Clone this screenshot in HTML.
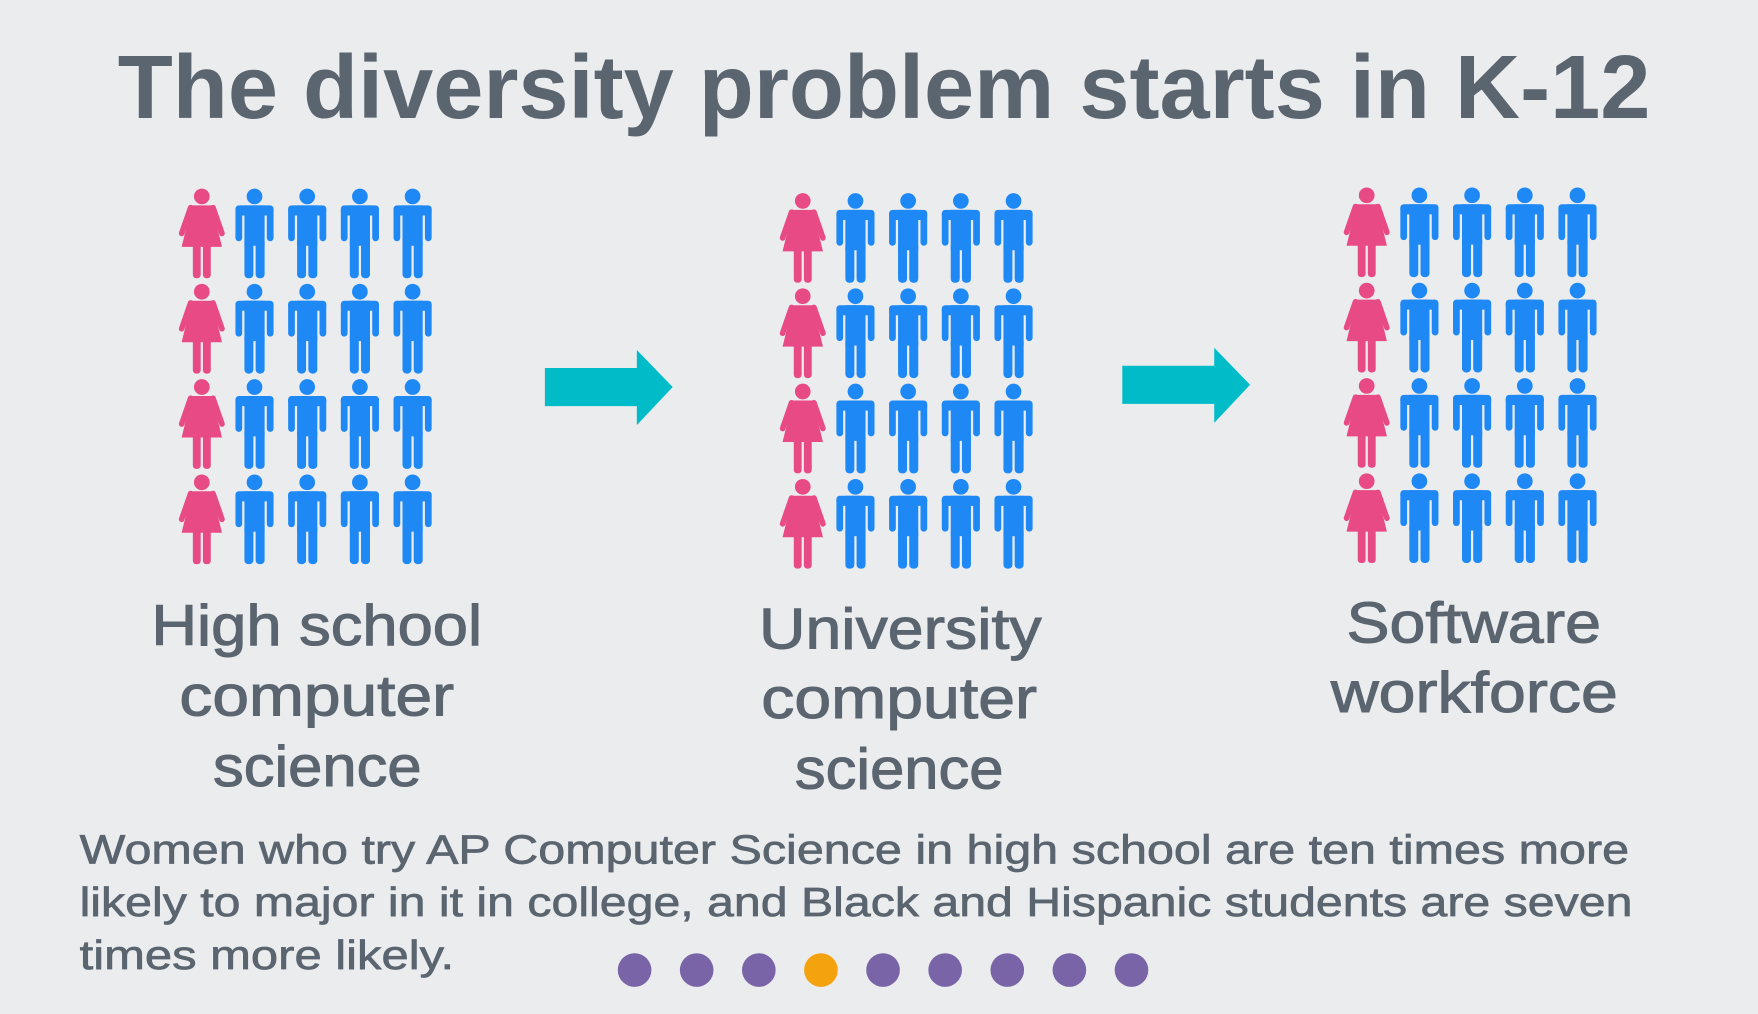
<!DOCTYPE html>
<html><head><meta charset="utf-8"><style>
html,body{margin:0;padding:0;background:#ebecee;}
svg{display:block;}
text{font-family:"Liberation Sans",sans-serif;fill:#5a6570;}
.lbl text{stroke:#5a6570;stroke-width:0.9;}
</style></head><body>
<svg id="chart" width="1758" height="1014" viewBox="0 0 1568 904" xmlns="http://www.w3.org/2000/svg">
<rect x="0" y="0" width="1568" height="904" fill="#ebecee"/>
<text x="105" y="105" font-size="80" font-weight="bold" textLength="1367" lengthAdjust="spacingAndGlyphs">The diversity problem starts in K-12</text>
<g id="icons"></g>
<g fill="#00bcc9"><path d="M486,328 H568 V312 L600,345 L568,379 V362 H486 Z"/></g>
<g fill="#00bcc9"><path d="M1001,326 H1083 V310 L1115,343 L1083,377 V360 H1001 Z"/></g>
<g class="lbl" font-size="51">
<text x="135" y="575" textLength="295" lengthAdjust="spacingAndGlyphs">High school</text><text x="160" y="638" textLength="245" lengthAdjust="spacingAndGlyphs">computer</text><text x="190" y="701" textLength="186" lengthAdjust="spacingAndGlyphs">science</text></g>
<g class="lbl" font-size="51">
<text x="677" y="578" textLength="252" lengthAdjust="spacingAndGlyphs">University</text><text x="679" y="640" textLength="246" lengthAdjust="spacingAndGlyphs">computer</text><text x="709" y="703" textLength="186" lengthAdjust="spacingAndGlyphs">science</text></g>
<g class="lbl" font-size="51">
<text x="1201" y="573" textLength="227" lengthAdjust="spacingAndGlyphs">Software</text><text x="1187" y="635" textLength="256" lengthAdjust="spacingAndGlyphs">workforce</text></g>
<g class="lbl" font-size="36">
<text x="71" y="770" textLength="1382" lengthAdjust="spacingAndGlyphs" style="stroke-width:0.6">Women who try AP Computer Science in high school are ten times more</text>
<text x="71" y="817" textLength="1385" lengthAdjust="spacingAndGlyphs" style="stroke-width:0.6">likely to major in it in college, and Black and Hispanic students are seven</text>
<text x="71" y="864" textLength="334" lengthAdjust="spacingAndGlyphs" style="stroke-width:0.6">times more likely.</text>
</g>
<g id="dots"></g>
</svg>
<script>
const groups = ["High school computer science","University computer science","Software workforce"];
const womenPerRow = [1,1,1];
const rowsPerGroup = [4,4,4];
const perRow = 5;
const pageCount = 9;
const activePage = 3;

const NS="http://www.w3.org/2000/svg";
const origins=[{x:162,y:168},{x:698,y:172},{x:1201,y:167}];
const colStep=47, rowStep=85;
function el(t,a){const e=document.createElementNS(NS,t);for(const k in a)e.setAttribute(k,a[k]);return e;}
function man(g,x,y){
  const c="#1e88f5";
  g.appendChild(el("circle",{cx:x+18,cy:y+7,r:7,fill:c}));
  g.appendChild(el("rect",{x:x+1,y:y+15,width:34,height:9,rx:4,fill:c}));
  g.appendChild(el("rect",{x:x+1,y:y+15,width:6,height:32,rx:3,fill:c}));
  g.appendChild(el("rect",{x:x+29,y:y+15,width:6,height:32,rx:3,fill:c}));
  g.appendChild(el("rect",{x:x+9,y:y+15,width:18,height:36,fill:c}));
  g.appendChild(el("rect",{x:x+9,y:y+44,width:8,height:36,rx:3.5,fill:c}));
  g.appendChild(el("rect",{x:x+19,y:y+44,width:8,height:36,rx:3.5,fill:c}));
}
function woman(g,x,y){
  const c="#e84a86";
  g.appendChild(el("circle",{cx:x+18,cy:y+7,r:7,fill:c}));
  g.appendChild(el("path",{d:`M${x+9},${y+15} H${x+27} L${x+36},${y+52} H${x} Z`,fill:c}));
  g.appendChild(el("line",{x1:x+8,y1:y+17,x2:x,y2:y+40,stroke:c,"stroke-width":5,"stroke-linecap":"round"}));
  g.appendChild(el("line",{x1:x+28,y1:y+17,x2:x+36,y2:y+40,stroke:c,"stroke-width":5,"stroke-linecap":"round"}));
  g.appendChild(el("rect",{x:x+10,y:y+48,width:7,height:32,rx:3,fill:c}));
  g.appendChild(el("rect",{x:x+19,y:y+48,width:7,height:32,rx:3,fill:c}));
}
const icons=document.getElementById("icons");
groups.forEach((name,gi)=>{
  const g=el("g",{});
  
  
  for(let r=0;r<rowsPerGroup[gi];r++){
    for(let c=0;c<perRow;c++){
      const p=el("g",{});
      const isW=c<womenPerRow[gi];
      
      
      const x=origins[gi].x+c*colStep, y=origins[gi].y+r*rowStep;
      if(isW) woman(p,x,y); else man(p,x,y);
      g.appendChild(p);
    }
  }
  icons.appendChild(g);
});
const dots=document.getElementById("dots");
for(let i=0;i<pageCount;i++){
  const d=el("circle",{cx:566+i*55.4,cy:865,r:15,fill:i===activePage?"#f5a20f":"#7a64a8"});
  
  
  dots.appendChild(d);
}
</script>
</body></html>
